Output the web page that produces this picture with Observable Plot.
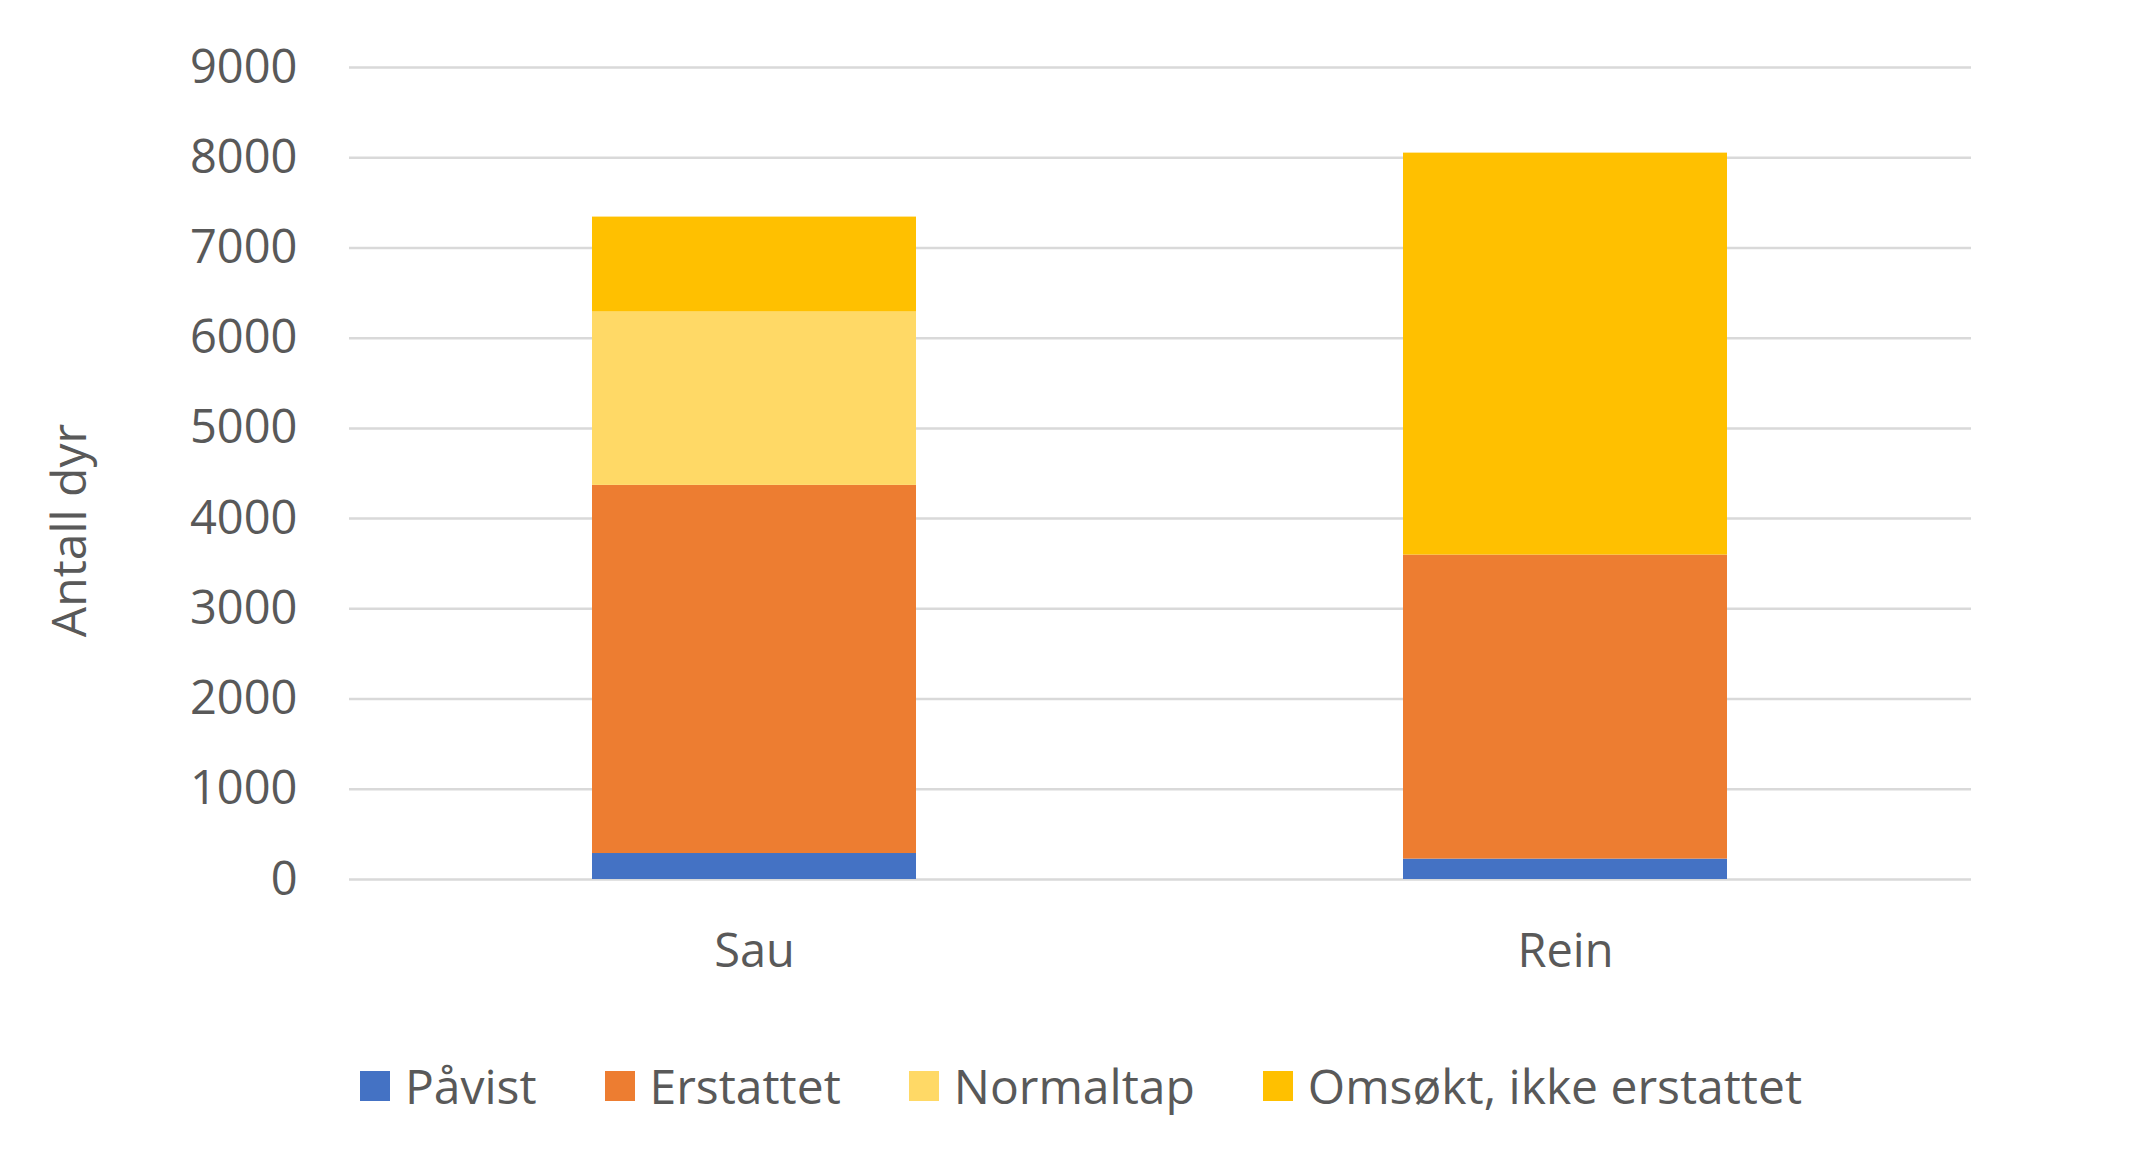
<!DOCTYPE html>
<html>
<head>
<meta charset="utf-8">
<script src="https://cdn.jsdelivr.net/npm/d3@7"></script>
<script src="https://cdn.jsdelivr.net/npm/@observablehq/plot@0.6"></script>
<style>
  html, body { margin: 0; padding: 0; background: #fff; }
  #chart { width: 2148px; }
  .legend { display: flex; justify-content: center; align-items: center; font-family: "Open Sans", sans-serif; font-size: 48px; line-height: 66px; color: #595959; margin-top: 23px; padding-left: 14px; }
  .legend .item { display: flex; align-items: center; margin: 0 34px; }
  .legend .sw { width: 30px; height: 30px; margin-right: 15px; }
</style>
</head>
<body>
<div id="chart"></div>
<script>
const categories = ["Sau", "Rein"];
const seriesNames = ["Påvist", "Erstattet", "Normaltap", "Omsøkt, ikke erstattet"];
const pavist = [288, 226];
const erstattet = [4080, 3370];
const normaltap = [1922, 0];
const omsokt = [1052, 4455];
const yTicks = [0, 1000, 2000, 3000, 4000, 5000, 6000, 7000, 8000, 9000];
const colors = ["#4472C4", "#ED7D31", "#FFD966", "#FFC000"];
const yLabel = "Antall dyr";

const seriesValues = [pavist, erstattet, normaltap, omsokt];
const data = [];
seriesNames.forEach((s, si) => {
  categories.forEach((c, ci) => {
    data.push({category: c, series: s, value: seriesValues[si][ci]});
  });
});

const plot = Plot.plot({
  width: 2148,
  height: 1030,
  marginTop: 67,
  marginBottom: 151,
  marginLeft: 349,
  marginRight: 177,
  style: {fontFamily: "'Open Sans', sans-serif", fontSize: "47px", color: "#595959", background: "#fff"},
  x: {type: "band", domain: categories, paddingInner: 0.6, paddingOuter: 0.3, label: null, tickSize: 0, tickPadding: 54},
  y: {domain: [0, 9000], ticks: yTicks, label: null, tickSize: 0, tickPadding: 52, tickFormat: d => String(d)},
  color: {domain: seriesNames, range: colors},
  marks: [
    Plot.ruleY(yTicks, {stroke: "#d9d9d9", strokeWidth: 2.5}),
    Plot.barY(data, {x: "category", y: "value", fill: "series", order: seriesNames}),
    Plot.text([yLabel], {frameAnchor: "left", text: d => d, rotate: -90, textAnchor: "middle", lineAnchor: "middle", dx: -279, dy: 57, fontSize: 48, fill: "#595959"})
  ]
});
document.getElementById("chart").appendChild(plot);

const legend = document.createElement("div");
legend.className = "legend";
seriesNames.forEach((s, i) => {
  const item = document.createElement("div");
  item.className = "item";
  const sw = document.createElement("span");
  sw.className = "sw";
  sw.style.background = colors[i];
  const t = document.createElement("span");
  t.textContent = s;
  item.appendChild(sw);
  item.appendChild(t);
  legend.appendChild(item);
});
document.getElementById("chart").appendChild(legend);
</script>
</body>
</html>
